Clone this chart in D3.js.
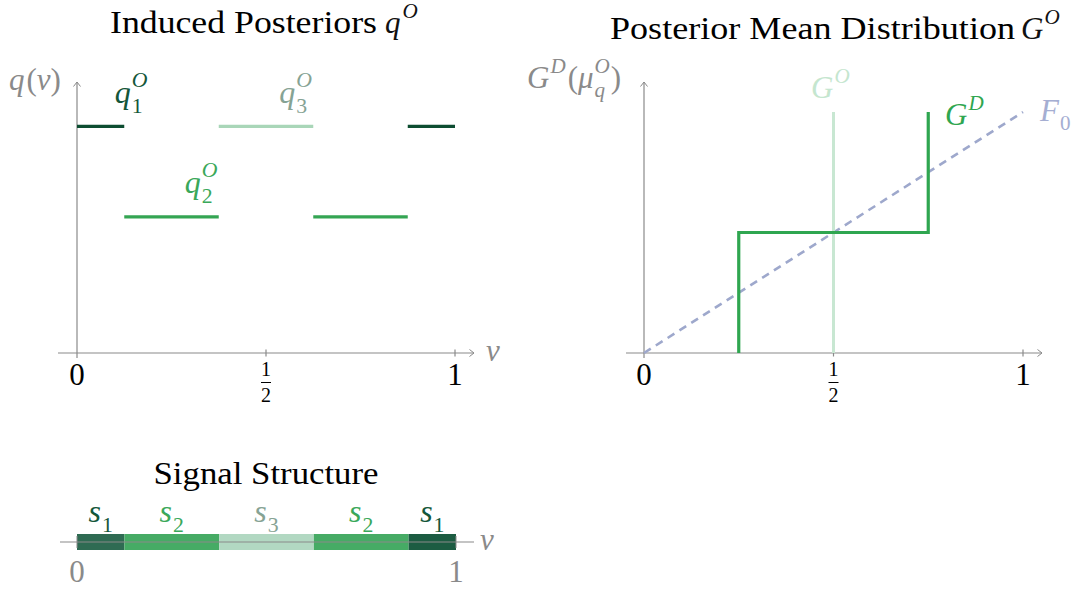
<!DOCTYPE html>
<html><head><meta charset="utf-8">
<script src="https://cdn.jsdelivr.net/npm/d3@7"></script>
<style>body{margin:0;background:#fff} svg{display:block} svg text{font-family:"Liberation Serif","Times New Roman",Tinos,Times,serif}</style>
</head><body>
<script>
// ---- data ----
const segBreaks = [0, 0.125, 0.375, 0.625, 0.875, 1];
const segSignal = [1, 2, 3, 2, 1];
const qValues = [0.94, 0.565, 0.94, 0.565, 0.94];
const qLabelPos = [[0.1, 1], [0.285, 2], [0.535, 3]]; // [x, signal]
const xTicks = [0, 0.5, 1];
const xTickLabels = ["0", "1/2", "1"];
const gdX = [0.25, 0.25, 0.75, 0.75];
const gdY = [0, 0.5, 0.5, 1];
const goX = [0.5, 0.5];
const goY = [0, 1];
const f0X = [0, 1];
const f0Y = [0, 1];
const lineColors = {1: "#0d4d31", 2: "#34a553", 3: "#a9d6b8"};
const labelColors = {1: "#14573a", 2: "#3aa85a", 3: "#86a394"};
const barColors = ["#2f6b53", "#46ab65", "#b2d8c2", "#46ab65", "#1c5c42"];

const W = 1079, H = 592;
const GRAY = "#8a8a8a";
const svg = d3.select("body").append("svg").attr("width", W).attr("height", H);

const defs = svg.append("defs");
defs.append("marker").attr("id", "arr").attr("viewBox", "-6 -5 8 10")
  .attr("refX", 0).attr("refY", 0).attr("markerWidth", 8).attr("markerHeight", 10)
  .attr("markerUnits", "userSpaceOnUse").attr("orient", "auto")
  .append("path").attr("d", "M-4.5,-3.5 L0,0 L-4.5,3.5").attr("fill", "none")
  .attr("stroke", GRAY).attr("stroke-width", 1);

// math text layout helper
function math(x, y, items, opts) {
  const size = opts.size || 27, color = opts.color || "#000", anchor = opts.anchor || 0;
  const g = svg.append("g");
  let cx = 0, prevStart = 0, prevEnd = 0;
  items.forEach(it => {
    const s = (it.sup || it.sub) ? size * 0.68 : size;
    const dy = it.sup ? -0.5 * size : it.sub ? 0.3 * size : 0;
    const startX = it.stack ? prevStart : cx;
    const t = g.append("text").attr("x", startX + (it.dx || 0)).attr("y", dy)
      .attr("font-size", s).attr("font-style", it.it ? "italic" : "normal")
      .attr("fill", color).text(it.t);
    const w = t.node().getComputedTextLength() + (it.dx || 0);
    if (it.stack) { cx = Math.max(prevEnd, startX + w); }
    else { prevStart = startX; cx = startX + w; }
    prevEnd = cx;
  });
  g.attr("transform", `translate(${x - anchor * cx},${y})`);
  return g;
}

function axes(xs, ys, x0, x1, yTop) {
  const g = svg.append("g");
  g.append("line").attr("x1", x0).attr("x2", x1).attr("y1", ys(0)).attr("y2", ys(0))
    .attr("stroke", GRAY).attr("stroke-width", 1.2).attr("marker-end", "url(#arr)");
  g.append("line").attr("x1", xs(0)).attr("x2", xs(0)).attr("y1", ys(0) + 5).attr("y2", yTop)
    .attr("stroke", GRAY).attr("stroke-width", 1.2).attr("marker-end", "url(#arr)");
  xTicks.forEach((t, i) => {
    if (t > 0) g.append("line").attr("x1", xs(t)).attr("x2", xs(t))
      .attr("y1", ys(0) - 3.5).attr("y2", ys(0) + 3.5).attr("stroke", GRAY).attr("stroke-width", 1.2);
    const lab = xTickLabels[i];
    if (lab.includes("/")) {
      const [n, d] = lab.split("/");
      g.append("text").attr("x", xs(t)).attr("y", ys(0) + 23).attr("text-anchor", "middle")
        .attr("font-size", 20).text(n);
      g.append("line").attr("x1", xs(t) - 5).attr("x2", xs(t) + 5)
        .attr("y1", ys(0) + 29.5).attr("y2", ys(0) + 29.5).attr("stroke", "#000").attr("stroke-width", 1);
      g.append("text").attr("x", xs(t)).attr("y", ys(0) + 49).attr("text-anchor", "middle")
        .attr("font-size", 20).text(d);
    } else {
      g.append("text").attr("x", xs(t)).attr("y", ys(0) + 32).attr("text-anchor", "middle")
        .attr("font-size", 31).text(lab);
    }
  });
}

// ---- left chart ----
const xL = d3.scaleLinear([0, 1], [77, 455]);
const yL = d3.scaleLinear([0, 1], [353, 112]);
axes(xL, yL, 58, 474, 82);
svg.append("g").selectAll("line").data(qValues).join("line")
  .attr("x1", (d, i) => xL(segBreaks[i])).attr("x2", (d, i) => xL(segBreaks[i + 1]))
  .attr("y1", d => yL(d)).attr("y2", d => yL(d))
  .attr("stroke", (d, i) => lineColors[segSignal[i]]).attr("stroke-width", 3.2);

// title
svg.append("text").attr("x", 110).attr("y", 33).attr("font-size", 31)
  .attr("textLength", 267).attr("lengthAdjust", "spacingAndGlyphs").text("Induced Posteriors");
math(385, 33, [{t: "q", it: true}, {t: "O", it: true, sup: true, dx: 2}], {size: 31, color: "#111"});

math(9, 90, [{t: "q", it: true}, {t: "(", dx: 2}, {t: "v", it: true}, {t: ")"}], {size: 31, color: GRAY});
math(486, 361, [{t: "v", it: true}], {size: 31, color: GRAY});

const qLabelY = {1: 103, 2: 193, 3: 103};
qLabelPos.forEach(([x, s]) => {
  math(xL(x), qLabelY[s], [{t: "q", it: true}, {t: "O", it: true, sup: true, dx: 1}, {t: String(s), sub: true, stack: true, dx: 1}],
    {size: 32, color: labelColors[s]});
});

// ---- right chart ----
const xR = d3.scaleLinear([0, 1], [644, 1023]);
const yR = d3.scaleLinear([0, 1], [353, 112]);
axes(xR, yR, 626, 1042, 82);

const lineGen = (xs, ys) => d3.line().x(d => xs(d[0])).y(d => ys(d[1]));
svg.append("path").datum(d3.zip(f0X, f0Y)).attr("d", lineGen(xR, yR))
  .attr("fill", "none").attr("stroke", "#9ea8cc").attr("stroke-width", 2.6)
  .attr("stroke-dasharray", "8,6");
svg.append("path").datum(d3.zip(goX, goY)).attr("d", lineGen(xR, yR))
  .attr("fill", "none").attr("stroke", "#c8e7d2").attr("stroke-width", 3);
svg.append("path").datum(d3.zip(gdX, gdY)).attr("d", lineGen(xR, yR))
  .attr("fill", "none").attr("stroke", "#2fa650").attr("stroke-width", 3.2);

svg.append("text").attr("x", 610).attr("y", 39).attr("font-size", 31)
  .attr("textLength", 405).attr("lengthAdjust", "spacingAndGlyphs").text("Posterior Mean Distribution");
math(1021, 39, [{t: "G", it: true}, {t: "O", it: true, sup: true, dx: 1}], {size: 31, color: "#111"});

math(527, 88, [{t: "G", it: true}, {t: "D", it: true, sup: true, dx: 1}, {t: "(", dx: 2}, {t: "μ", it: true},
  {t: "O", it: true, sup: true, dx: 1}, {t: "q", it: true, sub: true, stack: true, dx: 1}, {t: ")", dx: 1}],
  {size: 31, color: GRAY});
math(811, 98, [{t: "G", it: true}, {t: "O", it: true, sup: true, dx: 1}], {size: 31, color: "#c5e6cf"});
math(945, 125, [{t: "G", it: true}, {t: "D", it: true, sup: true, dx: 1}], {size: 31, color: "#2fa650"});
math(1040, 121, [{t: "F", it: true}, {t: "0", sub: true, dx: 1}], {size: 31, color: "#a5aed2"});

// ---- signal structure ----
const xB = d3.scaleLinear([0, 1], [77, 456]);
const barTop = 534, barH = 16, barMid = 542;
svg.append("text").attr("x", 266).attr("y", 484).attr("text-anchor", "middle").attr("font-size", 31)
  .attr("textLength", 225).attr("lengthAdjust", "spacingAndGlyphs").text("Signal Structure");
svg.append("g").selectAll("rect").data(segSignal).join("rect")
  .attr("x", (d, i) => xB(segBreaks[i])).attr("width", (d, i) => xB(segBreaks[i + 1]) - xB(segBreaks[i]))
  .attr("y", barTop).attr("height", barH).attr("fill", (d, i) => barColors[i]);
svg.append("line").attr("x1", 60).attr("x2", 474).attr("y1", barMid).attr("y2", barMid)
  .attr("stroke", GRAY).attr("stroke-width", 1.2);
[0, 1].forEach(t => svg.append("line").attr("x1", xB(t)).attr("x2", xB(t)).attr("y1", barMid - 6).attr("y2", barMid + 6)
  .attr("stroke", GRAY).attr("stroke-width", 1));
segSignal.forEach((s, i) => {
  const cx = (xB(segBreaks[i]) + xB(segBreaks[i + 1])) / 2;
  math(cx, 522, [{t: "s", it: true}, {t: String(s), sub: true, dx: 1}], {size: 32, color: labelColors[s], anchor: 0.5});
});
math(480, 550, [{t: "v", it: true}], {size: 31, color: GRAY});
svg.append("text").attr("x", xB(0)).attr("y", 582).attr("text-anchor", "middle").attr("font-size", 31).attr("fill", GRAY).text("0");
svg.append("text").attr("x", xB(1)).attr("y", 582).attr("text-anchor", "middle").attr("font-size", 31).attr("fill", GRAY).text("1");
</script>
</body></html>
